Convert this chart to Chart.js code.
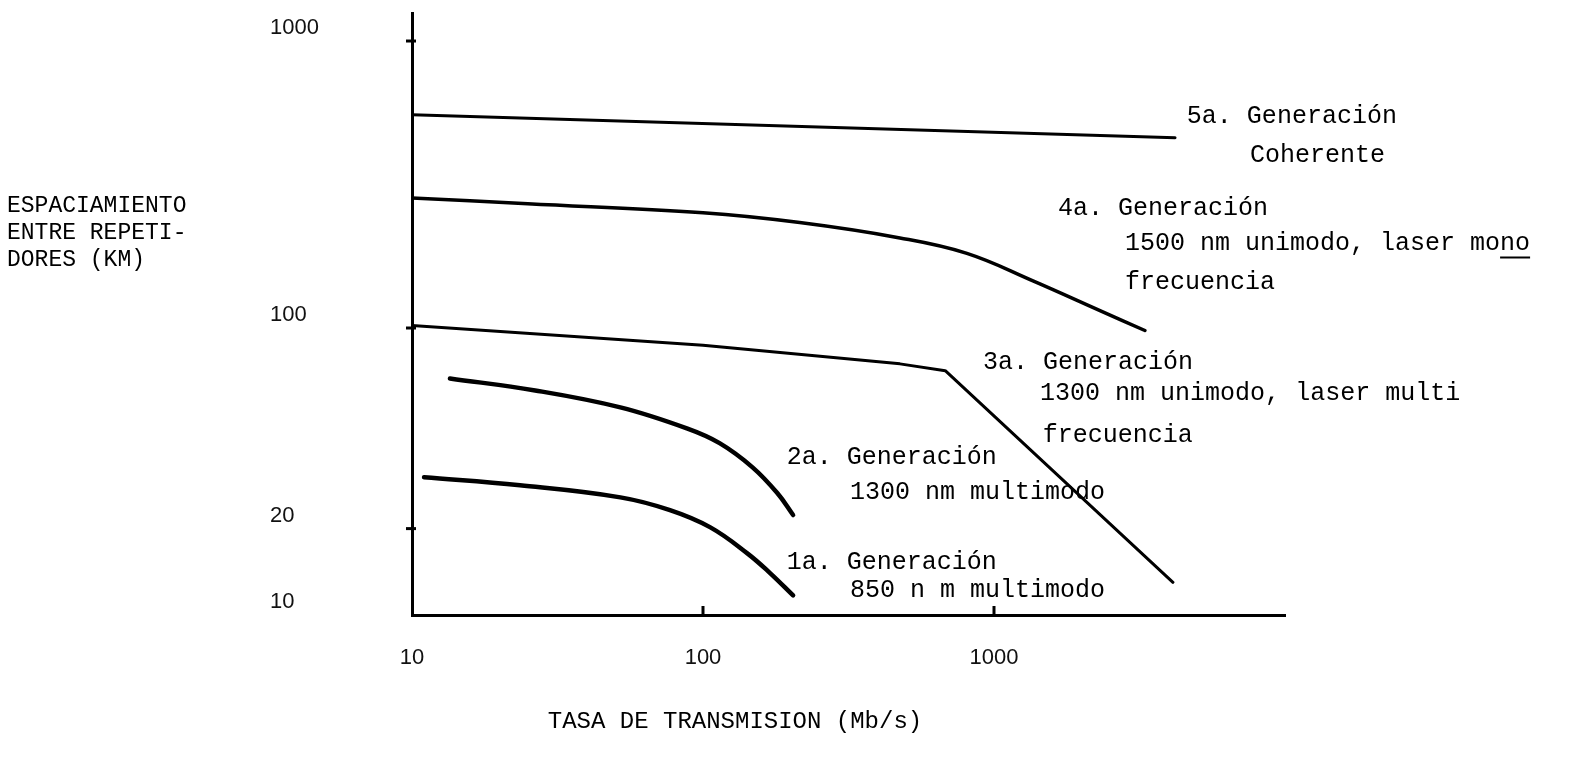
<!DOCTYPE html>
<html lang="es">
<head>
<meta charset="utf-8">
<script src="https://cdn.jsdelivr.net/npm/chart.js@4/dist/chart.umd.min.js"></script>
<style>
  html, body { margin: 0; padding: 0; background: #fff; }
  #contenedor { width: 1569px; height: 759px; position: relative; }
</style>
</head>
<body>
<div id="contenedor"><canvas id="grafico"></canvas></div>
<script>
// Tasa de transmisión (Mb/s) contra espaciamiento entre repetidores (km)
const gen1Tasa = [11, 23.5, 52, 77, 106, 142, 170, 204];
const gen1Dist = [30.2, 28.3, 25.7, 23.2, 20.2, 16.4, 14.0, 11.7];
const gen2Tasa = [13.5, 26.5, 52, 88, 114, 148, 180, 204];
const gen2Dist = [66.7, 60.6, 52.9, 44.7, 39.7, 32.7, 26.6, 22.3];
const gen3Tasa = [10, 100, 475, 680, 4120];
const gen3Dist = [102, 87, 75, 71, 13];
const gen4Tasa = [10, 25, 100, 215, 475, 807, 1361, 2313, 3300];
const gen4Dist = [284, 271, 252, 233, 206, 182, 146, 115, 98];
const gen5Tasa = [10, 4190];
const gen5Dist = [553, 460];

const ticksX = [10, 100, 1000];
const ticksY = [10, 20, 100, 1000];

// textos de cada curva, anclados en coordenadas de datos (tasa, km)
const etiquetas = [
    { texto: '5a. Generación', x: 4600, y: 548 },
    { texto: 'Coherente', x: 7580, y: 398 },
    { texto: '4a. Generación', x: 1660, y: 262 },
    { texto: '1500 nm unimodo, laser mono', x: 2820, y: 197, subrayar: 2 },
    { texto: 'frecuencia', x: 2820, y: 144 },
    { texto: '3a. Generación', x: 916, y: 76 },
    { texto: '1300 nm unimodo, laser multi', x: 1440, y: 59 },
    { texto: 'frecuencia', x: 1470, y: 42.3 },
    { texto: '2a. Generación', x: 194, y: 35.4 },
    { texto: '1300 nm multimodo', x: 320, y: 26.8 },
    { texto: '1a. Generación', x: 194, y: 15.2 },
    { texto: '850 n m multimodo', x: 320, y: 12.2 }
];

const tituloY = ['ESPACIAMIENTO', 'ENTRE REPETI-', 'DORES (KM)'];
const tituloX = 'TASA DE TRANSMISION (Mb/s)';

const MONO = '"Liberation Mono", "DejaVu Sans Mono", monospace';
const SANS = '"Liberation Sans", Arial, sans-serif';

function puntos(xs, ys) {
    return xs.map((x, i) => ({ x: x, y: ys[i] }));
}

function serie(xs, ys, grosor, tension) {
    return {
        data: puntos(xs, ys),
        borderColor: '#000',
        borderWidth: grosor,
        pointRadius: 0,
        fill: false,
        tension: tension,
        borderCapStyle: 'round',
        borderJoinStyle: 'round'
    };
}

const pluginTextos = {
    id: 'textos',
    afterDraw(chart) {
        const ctx = chart.ctx;
        const sx = chart.scales.x, sy = chart.scales.y;
        ctx.save();
        ctx.strokeStyle = '#000';
        ctx.lineWidth = 3;
        // marcas pequeñas sobre los ejes
        ticksY.filter(v => v !== 10).forEach(v => {
            const py = sy.getPixelForValue(v);
            ctx.beginPath();
            ctx.moveTo(sx.left - 6, py);
            ctx.lineTo(sx.left + 4, py);
            ctx.stroke();
        });
        ticksX.filter(v => v !== 10).forEach(v => {
            const px = sx.getPixelForValue(v);
            ctx.beginPath();
            ctx.moveTo(px, sy.bottom);
            ctx.lineTo(px, sy.bottom - 9);
            ctx.stroke();
        });

        ctx.fillStyle = '#000';
        ctx.font = '25px ' + MONO;
        ctx.textAlign = 'left';
        ctx.textBaseline = 'middle';
        etiquetas.forEach(e => {
            const px = sx.getPixelForValue(e.x);
            const py = sy.getPixelForValue(e.y);
            ctx.fillText(e.texto, px, py);
            if (e.subrayar) {
                const total = ctx.measureText(e.texto).width;
                const parte = ctx.measureText(e.texto.slice(-e.subrayar)).width;
                ctx.lineWidth = 2;
                ctx.beginPath();
                ctx.moveTo(px + total - parte, py + 14);
                ctx.lineTo(px + total, py + 14);
                ctx.stroke();
            }
        });

        // títulos de los ejes
        ctx.font = '23px ' + MONO;
        tituloY.forEach((linea, i) => ctx.fillText(linea, 7, 206 + i * 27));
        ctx.font = '24px ' + MONO;
        ctx.textAlign = 'center';
        ctx.fillText(tituloX, 735, 722);
        ctx.restore();
    }
};

new Chart(document.getElementById('grafico'), {
    type: 'line',
    data: {
        datasets: [
            serie(gen5Tasa, gen5Dist, 3, 0),
            serie(gen4Tasa, gen4Dist, 3.5, 0.4),
            serie(gen3Tasa, gen3Dist, 3, 0),
            serie(gen2Tasa, gen2Dist, 4.5, 0.4),
            serie(gen1Tasa, gen1Dist, 4.5, 0.4)
        ]
    },
    options: {
        responsive: true,
        maintainAspectRatio: false,
        animation: false,
        layout: { padding: { top: 0, right: 284, bottom: 0, left: 270 } },
        plugins: {
            legend: { display: false },
            tooltip: { enabled: false }
        },
        scales: {
            x: {
                type: 'logarithmic',
                min: 10,
                max: 10000,
                afterBuildTicks: (s) => { s.ticks = ticksX.map(v => ({ value: v })); },
                afterFit: (s) => { s.height = 144; },
                grid: { display: false, drawTicks: false },
                border: { display: true, width: 3, color: '#000' },
                ticks: {
                    padding: 30,
                    color: '#111',
                    font: { family: SANS, size: 22 },
                    maxRotation: 0,
                    callback: (v) => String(v)
                }
            },
            y: {
                type: 'logarithmic',
                min: 10,
                max: 1250,
                afterBuildTicks: (s) => { s.ticks = ticksY.map(v => ({ value: v })); },
                afterFit: (s) => { s.width = 142; },
                grid: { display: false, drawTicks: false },
                border: { display: true, width: 3, color: '#000' },
                ticks: {
                    padding: 0,
                    crossAlign: 'far',
                    labelOffset: -13,
                    color: '#111',
                    font: { family: SANS, size: 22 },
                    callback: (v) => String(v)
                }
            }
        }
    },
    plugins: [pluginTextos]
});
</script>
</body>
</html>
